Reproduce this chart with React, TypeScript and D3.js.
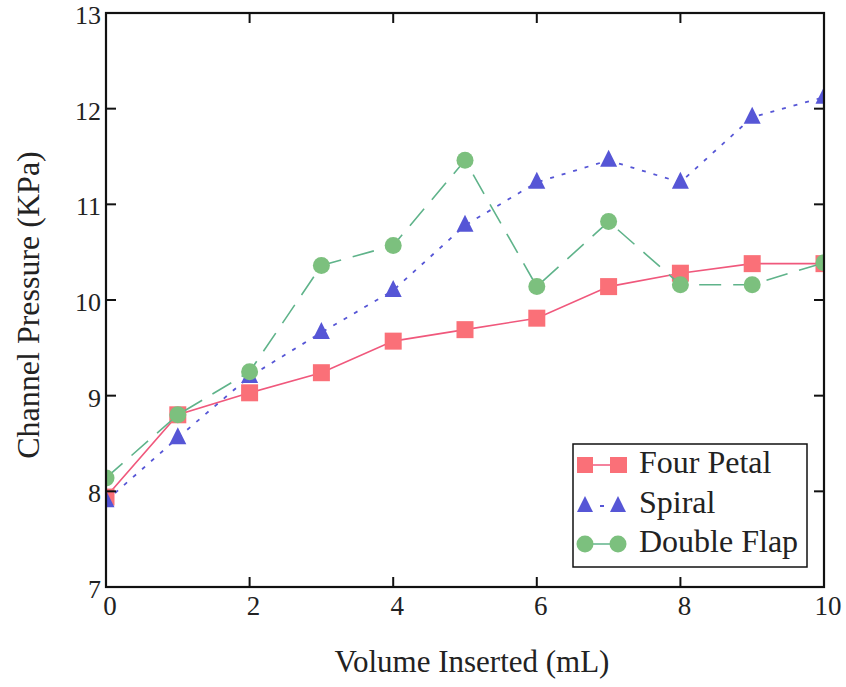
import React from "react";
import * as d3 from "d3";

const volumes = [0, 1, 2, 3, 4, 5, 6, 7, 8, 9, 10];
const fourPetal = [7.94, 8.8, 9.03, 9.24, 9.57, 9.69, 9.81, 10.14, 10.28, 10.38, 10.38];
const spiral = [7.9, 8.56, 9.2, 9.66, 10.1, 10.78, 11.23, 11.46, 11.23, 11.91, 12.12];
const doubleFlap = [8.14, 8.8, 9.25, 10.36, 10.57, 11.46, 10.14, 10.82, 10.16, 10.16, 10.39];
const xTicks = [0, 2, 4, 6, 8, 10];
const yTicks = [7, 8, 9, 10, 11, 12, 13];
const seriesNames = ["Four Petal", "Spiral", "Double Flap"];

const W = 846;
const H = 687;
const L = 106, R = 824, T = 13, B = 587;
const FONT = "'Liberation Serif', 'Times New Roman', serif";

export default function App() {
  const x = d3.scaleLinear().domain([0, 10]).range([L, R]);
  const y = d3.scaleLinear().domain([7, 13]).range([B, T]);
  const line = (vals: number[]) =>
    d3.line<number>().x((_, i) => x(volumes[i])).y((v) => y(v))(vals) || "";

  const redLine = "#f0587c";
  const redFill = "#fa7078";
  const blue = "#5656d6";
  const greenLine = "#5fb38a";
  const greenFill = "#7cc07e";

  const sq = 17;
  const tri = (cx: number, cy: number, s: number) =>
    `M${cx},${cy - s * 0.62}L${cx + s / 2},${cy + s * 0.38}L${cx - s / 2},${cy + s * 0.38}Z`;

  const inner = xTicks.filter((t) => t > 0 && t < 10);
  const innerY = yTicks.filter((t) => t > 7 && t < 13);

  return (
    <svg width={W} height={H} style={{ position: "absolute", left: 0, top: 0, background: "#fff" }} fontFamily={FONT}>
      <defs>
        <clipPath id="plot">
          <rect x={L} y={T} width={R - L} height={B - T} />
        </clipPath>
      </defs>
      <rect width={W} height={H} fill="#fff" />
      <g clipPath="url(#plot)">
        <path d={line(fourPetal)} fill="none" stroke={redLine} strokeWidth={1.6} />
        {fourPetal.map((v, i) => (
          <rect key={"r" + i} x={x(volumes[i]) - sq / 2} y={y(v) - sq / 2} width={sq} height={sq} fill={redFill} />
        ))}
        <path d={line(spiral)} fill="none" stroke={blue} strokeWidth={1.8} strokeDasharray="4,8" />
        {spiral.map((v, i) => (
          <path key={"b" + i} d={tri(x(volumes[i]), y(v), 17)} fill={blue} />
        ))}
        <path d={line(doubleFlap)} fill="none" stroke={greenLine} strokeWidth={1.6} strokeDasharray="22,12" />
        {doubleFlap.map((v, i) => (
          <circle key={"g" + i} cx={x(volumes[i])} cy={y(v)} r={8.5} fill={greenFill} />
        ))}
      </g>
      {/* frame */}
      <rect x={L} y={T} width={R - L} height={B - T} fill="none" stroke="#111" strokeWidth={2.2} />
      {inner.map((t) => (
        <g key={"xt" + t} stroke="#111" strokeWidth={2}>
          <line x1={x(t)} x2={x(t)} y1={B} y2={B - 10} />
          <line x1={x(t)} x2={x(t)} y1={T} y2={T + 10} />
        </g>
      ))}
      {innerY.map((t) => (
        <g key={"yt" + t} stroke="#111" strokeWidth={2}>
          <line x1={L} x2={L + 10} y1={y(t)} y2={y(t)} />
          <line x1={R} x2={R - 10} y1={y(t)} y2={y(t)} />
        </g>
      ))}
      {xTicks.map((t) => (
        <text key={"xl" + t} x={x(t) + 4} y={615} textAnchor="middle" fontSize={27} fill="#222">
          {t}
        </text>
      ))}
      {yTicks.map((t) => (
        <text key={"yl" + t} x={101} y={y(t) + 11} textAnchor="end" fontSize={26} fill="#222">
          {t}
        </text>
      ))}
      <text x={472} y={672} textAnchor="middle" fontSize={31} fill="#222">
        Volume Inserted (mL)
      </text>
      <text transform={`translate(39,305) rotate(-90)`} textAnchor="middle" fontSize={32} fill="#222">
        Channel Pressure (KPa)
      </text>
      {/* legend */}
      <rect x={573} y={444} width={234} height={123} fill="#fff" stroke="#111" strokeWidth={1.5} />
      <g>
        <line x1={585} x2={619} y1={465} y2={465} stroke={redLine} strokeWidth={1.6} />
        <rect x={577} y={457} width={16} height={16} fill={redFill} />
        <rect x={610} y={457} width={17} height={16} fill={redFill} />
        <text x={639} y={473} fontSize={32} fill="#222">{seriesNames[0]}</text>
      </g>
      <g>
        <line x1={596} x2={606} y1={506} y2={506} stroke={blue} strokeWidth={2} strokeDasharray="4,8" strokeDashoffset={-4} />
        <path d={tri(585, 506, 16)} fill={blue} />
        <path d={tri(618, 506, 16)} fill={blue} />
        <text x={639} y={513} fontSize={32} fill="#222">{seriesNames[1]}</text>
      </g>
      <g>
        <line x1={585} x2={618} y1={544} y2={544} stroke={greenLine} strokeWidth={1.6} />
        <circle cx={585} cy={544} r={8.5} fill={greenFill} />
        <circle cx={618} cy={544} r={8.5} fill={greenFill} />
        <text x={639} y={552} fontSize={32} fill="#222">{seriesNames[2]}</text>
      </g>
    </svg>
  );
}
